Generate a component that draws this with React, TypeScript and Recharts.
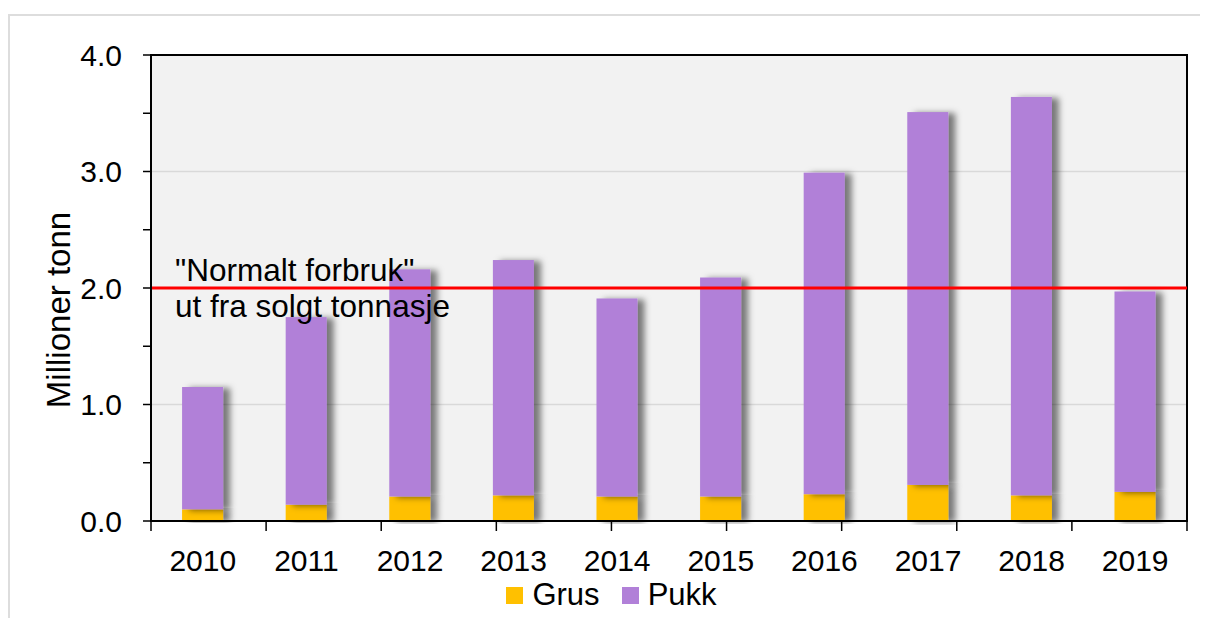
import {
  Bar,
  BarChart,
  CartesianGrid,
  Legend,
  ReferenceArea,
  ReferenceLine,
  XAxis,
  YAxis,
} from 'recharts';

const years = ['2010', '2011', '2012', '2013', '2014', '2015', '2016', '2017', '2018', '2019'];
const grus = [0.1, 0.14, 0.21, 0.22, 0.21, 0.21, 0.23, 0.31, 0.22, 0.25];
const pukk = [1.05, 1.61, 1.95, 2.02, 1.7, 1.88, 2.76, 3.2, 3.42, 1.72];
const yTicks = [0, 0.5, 1, 1.5, 2, 2.5, 3, 3.5, 4];
const gridValues = [1, 2, 3];
const normalLevel = 2;

const GRUS_COLOR = '#FFC000';
const PUKK_COLOR = '#B180D8';
const FONT = '"Liberation Sans", Arial, sans-serif';

const data = years.map((year, i) => ({ year, Grus: grus[i], Pukk: pukk[i] }));
const edgeTicks = Array.from({ length: years.length + 1 }, (_, i) => i);

const ShadowRect = (props: any) => {
  const { x, y, width, height, fill } = props;
  if (!height || height <= 0) return null;
  return <rect x={x} y={y} width={width} height={height} fill={fill} filter="url(#barShadow)" />;
};

const NormalLabel = ({ viewBox }: any) => {
  const x = viewBox.x + 24;
  const y = viewBox.y;
  return (
    <g fontFamily={FONT} fontSize={31.5} fill="#000">
      <text x={x} y={y - 7}>"Normalt forbruk"</text>
      <text x={x} y={y + 29}>ut fra solgt tonnasje</text>
    </g>
  );
};

const YLabel = ({ viewBox }: any) => {
  const cx = viewBox.x + 50;
  const cy = viewBox.y + viewBox.height / 2 + 22;
  return (
    <text
      x={cx}
      y={cy}
      transform={`rotate(-90, ${cx}, ${cy})`}
      textAnchor="middle"
      dominantBaseline="central"
      fontFamily={FONT}
      fontSize={33}
      fill="#000"
    >
      Millioner tonn
    </text>
  );
};

const LegendContent = ({ payload }: any) => (
  <div
    style={{
      display: 'flex',
      justifyContent: 'center',
      alignItems: 'center',
      paddingLeft: 50,
      fontFamily: FONT,
      fontSize: 31,
      color: '#000',
    }}
  >
    {(payload || []).map((item: any) => (
      <span key={item.value} style={{ display: 'flex', alignItems: 'center', marginRight: 22 }}>
        <span style={{ width: 17, height: 17, background: item.color, marginRight: 9 }} />
        {item.value}
      </span>
    ))}
  </div>
);

export default function App() {
  return (
    <div style={{ position: 'relative', width: 1192, height: 610 }}>
      <div
        style={{
          position: 'absolute',
          top: 6,
          left: 0,
          width: 1192,
          height: 604,
          boxSizing: 'border-box',
          borderTop: '2px solid #dddddd',
          borderLeft: '2px solid #dddddd',
        }}
      />
      <BarChart
        width={1192}
        height={610}
        data={data}
        margin={{ top: 47, right: 13, left: 0, bottom: 5 }}
        barCategoryGap="30%"
        style={{ position: 'relative', fontFamily: FONT }}
      >
        <defs>
          <filter id="barShadow" x="-20%" y="-5%" width="170%" height="115%">
            <feDropShadow dx={7} dy={1} stdDeviation={3} floodColor="#000" floodOpacity={0.5} />
          </filter>
        </defs>
        <CartesianGrid
          vertical={false}
          horizontalValues={gridValues}
          stroke="#d9d9d9"
          strokeWidth={1.5}
          fill="#f2f2f2"
        />
        <XAxis
          xAxisId="a"
          type="number"
          domain={[0, years.length]}
          ticks={edgeTicks}
          allowDataOverflow
          tickFormatter={() => ''}
          tickSize={10}
          height={12}
          axisLine={{ stroke: '#000', strokeWidth: 2 }}
          tickLine={{ stroke: '#000', strokeWidth: 1.5 }}
        />
        <XAxis
          xAxisId="b"
          dataKey="year"
          axisLine={false}
          tickLine={false}
          tickSize={0}
          tickMargin={17}
          height={44}
          interval={0}
          tick={{ fill: '#000', fontSize: 30, fontFamily: FONT }}
        />
        <YAxis
          domain={[0, 4]}
          ticks={yTicks}
          interval={0}
          width={143}
          tickSize={8}
          tickMargin={21}
          tickFormatter={(v: number) => (v % 1 === 0 ? v.toFixed(1) : '')}
          tick={{ fill: '#000', fontSize: 30, fontFamily: FONT }}
          axisLine={{ stroke: '#000', strokeWidth: 2 }}
          tickLine={{ stroke: '#000', strokeWidth: 1.5 }}
          label={<YLabel />}
        />
        <Bar xAxisId="b" dataKey="Grus" stackId="a" fill={GRUS_COLOR} shape={ShadowRect} isAnimationActive={false} />
        <Bar xAxisId="b" dataKey="Pukk" stackId="a" fill={PUKK_COLOR} shape={ShadowRect} isAnimationActive={false} />
        <ReferenceArea xAxisId="b" y1={0} y2={4} fill="none" stroke="#000" strokeWidth={2} ifOverflow="extendDomain" />
        <ReferenceLine xAxisId="b" y={normalLevel} stroke="#ff0000" strokeWidth={3} label={<NormalLabel />} />
        <Legend verticalAlign="bottom" height={36} content={<LegendContent />} />
      </BarChart>
    </div>
  );
}
